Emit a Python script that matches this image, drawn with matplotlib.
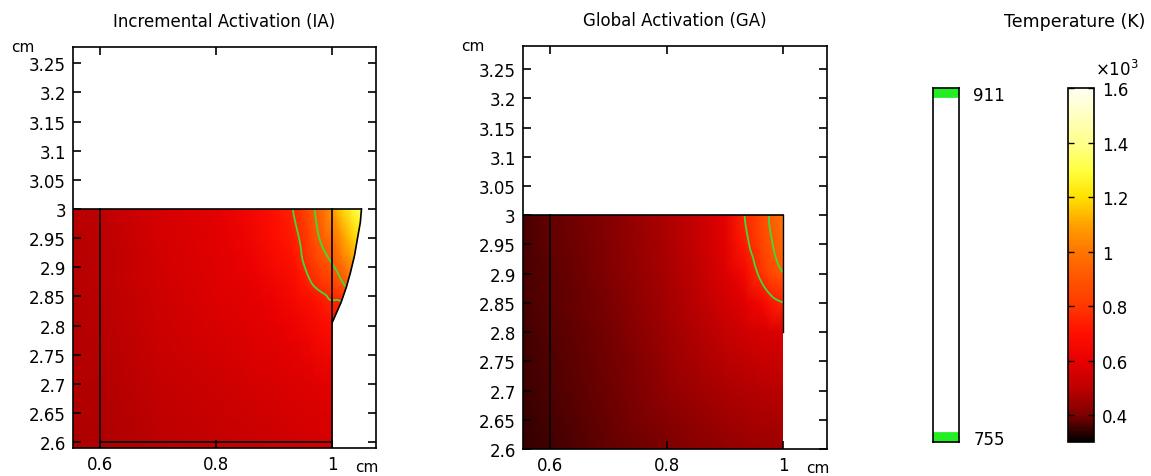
import numpy as np
import matplotlib
matplotlib.use("Agg")
import matplotlib.pyplot as plt
import matplotlib.tri as mtri
from matplotlib.colors import LinearSegmentedColormap, Normalize
from matplotlib.patches import Polygon
from matplotlib.cm import ScalarMappable

# contour levels (K) and colour range
levels = [755, 911]
t_min, t_max = 300, 1600

# --- Incremental Activation (IA): temperature (K), rows = ia_y
ia_x = [0.554, 0.6, 0.7, 0.8, 0.86, 0.9, 0.932, 0.955, 0.97, 0.985, 1.0, 1.015, 1.03, 1.05]
ia_y = [2.59, 2.7, 2.8, 2.843, 2.869, 2.91, 2.95, 3.0]
ia_T = [
    [475, 475, 496, 513, 523, 531, 539, 544, 547, 550, 552, 554, 558, 563],
    [480, 482, 513, 538, 552, 563, 571, 579, 584, 589, 594, 597, 604, 620],
    [485, 489, 529, 563, 581, 596, 615, 642, 661, 680, 693, 715, 742, 780],
    [486, 492, 536, 571, 592, 615, 647, 680, 701, 728, 755, 760, 830, 900],
    [488, 494, 539, 576, 598, 634, 666, 720, 762, 790, 820, 880, 950, 1020],
    [489, 496, 545, 584, 618, 666, 701, 775, 830, 880, 920, 985, 1060, 1130],
    [490, 498, 549, 589, 634, 688, 728, 805, 880, 935, 985, 1065, 1150, 1230],
    [491, 500, 552, 594, 647, 701, 755, 840, 915, 990, 1080, 1170, 1250, 1330],
]
# outline of the bulge on the right of the IA part, bottom to top
bulge_x = [1.0, 1.015, 1.024, 1.031, 1.038, 1.043, 1.048, 1.05]
bulge_y = [2.806, 2.840, 2.866, 2.891, 2.920, 2.949, 2.977, 3.0]

# --- Global Activation (GA), rows = ga_y
ga_x = [0.553, 0.6, 0.7, 0.8, 0.86, 0.9, 0.934, 0.96, 0.976, 1.0]
ga_y = [2.6, 2.7, 2.8, 2.851, 2.902, 2.95, 3.0]
ga_T = [
    [341, 353, 380, 400, 421, 432, 440, 443, 445, 446],
    [348, 363, 388, 428, 453, 468, 479, 486, 490, 491],
    [353, 370, 396, 452, 486, 516, 543, 557, 564, 568],
    [356, 374, 400, 460, 502, 544, 586, 648, 704, 755],
    [358, 376, 406, 467, 517, 573, 653, 777, 844, 911],
    [359, 378, 409, 471, 527, 588, 723, 826, 889, 960],
    [360, 378, 410, 473, 531, 594, 755, 850, 911, 1000],
]

y_ticks = [2.6, 2.65, 2.7, 2.75, 2.8, 2.85, 2.9, 2.95, 3.0, 3.05, 3.1, 3.15, 3.2, 3.25]
x_ticks = [0.6, 0.8, 1.0]
cbar_ticks = [400, 600, 800, 1000, 1200, 1400, 1600]

# colour scale
cmap_T = [300, 350, 400, 500, 600, 700, 800, 900, 1000, 1100, 1200, 1300, 1400, 1600]
cmap_rgb = [(0, 0, 0), (0.25, 0, 0), (0.5, 0, 0), (0.75, 0, 0), (0.91, 0, 0),
            (1, 0.06, 0), (1, 0.22, 0), (1, 0.33, 0), (1, 0.46, 0), (1, 0.63, 0),
            (1, 0.88, 0), (1, 1, 0.25), (1, 1, 0.55), (1, 1, 0.95)]
heat = LinearSegmentedColormap.from_list(
    "heat", [((t - t_min) / (t_max - t_min), c) for t, c in zip(cmap_T, cmap_rgb)])
norm = Normalize(t_min, t_max)
green = "#3ddc3d"

plt.rcParams["font.family"] = "DejaVu Sans"
fig = plt.figure(figsize=(11.51, 4.77), dpi=100)


def style_axes(ax, xlim, ylim, title):
    ax.set_xlim(*xlim)
    ax.set_ylim(*ylim)
    ax.set_xticks(x_ticks)
    ax.set_xticklabels(["%g" % v for v in x_ticks])
    ax.set_yticks(y_ticks)
    ax.set_yticklabels(["%g" % v for v in y_ticks])
    ax.tick_params(direction="in", length=6, width=1.2, top=True, right=True,
                   labelsize=12, pad=5)
    for s in ax.spines.values():
        s.set_linewidth(1.2)
    ax.set_title(title, fontsize=12, pad=15)
    ax.text(-0.165, 1.0, "cm", transform=ax.transAxes, ha="center", va="center", fontsize=11)
    ax.text(0.97, -0.045, "cm", transform=ax.transAxes, ha="center", va="center", fontsize=11)


def draw_field(ax, xs, ys, T, outline):
    X, Y = np.meshgrid(xs, ys)
    z = np.array(T, dtype=float).ravel()
    triang = mtri.Triangulation(X.ravel(), Y.ravel())
    clip = Polygon(outline, closed=True, transform=ax.transData, fill=False, lw=0)
    ax.add_patch(clip)
    mesh = ax.tripcolor(triang, z, cmap=heat, norm=norm, shading="gouraud")
    mesh.set_clip_path(clip)
    interp = mtri.CubicTriInterpolator(triang, z, kind="min_E")
    fine_tri, fine_z = mtri.UniformTriRefiner(triang).refine_field(z, triinterpolator=interp, subdiv=3)
    cs = ax.tricontour(fine_tri, fine_z, levels=levels, colors=green, linewidths=1.3)
    cs.set_clip_path(clip)


# IA panel
ax1 = fig.add_axes([0.0634, 0.0587, 0.2633, 0.8407])
ia_outline = ([(0.554, 2.59), (1.0, 2.59)] + list(zip(bulge_x, bulge_y)) + [(0.554, 3.0)])
draw_field(ax1, ia_x, ia_y, ia_T, ia_outline)
ax1.plot([0.554, 1.05], [3.0, 3.0], color="k", lw=1.2)
ax1.plot([0.6, 0.6], [2.59, 3.0], color="k", lw=1.2)
ax1.plot([1.0, 1.0], [2.59, 3.0], color="k", lw=1.2)
ax1.plot([0.6, 1.0], [2.6, 2.6], color="k", lw=1.2)
ax1.plot(bulge_x, bulge_y, color="k", lw=1.2)
style_axes(ax1, (0.554, 1.075), (2.59, 3.278), "Incremental Activation (IA)")

# GA panel
ax2 = fig.add_axes([0.4541, 0.0566, 0.2641, 0.8455])
ga_outline = [(0.553, 2.6), (1.0, 2.6), (1.0, 3.0), (0.553, 3.0)]
draw_field(ax2, ga_x, ga_y, ga_T, ga_outline)
ax2.plot([0.553, 1.0], [3.0, 3.0], color="k", lw=1.2)
ax2.plot([0.6, 0.6], [2.6, 3.0], color="k", lw=1.2)
ax2.plot([1.0, 1.0], [2.8, 3.0], color="k", lw=1.0)
style_axes(ax2, (0.553, 1.075), (2.6, 3.29), "Global Activation (GA)")

# contour level legend bar
axc = fig.add_axes([0.8103, 0.0707, 0.0231, 0.7421])
axc.set_ylim(752.7, 913.3)
axc.set_xlim(0, 1)
for lv in levels:
    axc.axhline(lv, color="#22ee22", lw=7)
axc.set_xticks([])
axc.set_yticks(levels)
axc.set_yticklabels([str(v) for v in levels])
axc.yaxis.tick_right()
axc.tick_params(axis="y", direction="in", length=3, width=1, left=True, right=True,
                labelsize=12, pad=10)
for s in axc.spines.values():
    s.set_linewidth(1.2)

# temperature colour bar
axb = fig.add_axes([0.9276, 0.0707, 0.0226, 0.7421])
cb = fig.colorbar(ScalarMappable(norm=norm, cmap=heat), cax=axb, ticks=cbar_ticks)
cb.ax.set_yticklabels(["%g" % (v / 1000) for v in cbar_ticks])
cb.ax.tick_params(direction="in", length=4, width=1, left=True, right=True,
                  labelsize=12, pad=6)
cb.outline.set_linewidth(1.2)
axb.text(1.9, 1.025, "×10$^3$", transform=axb.transAxes, ha="center", va="bottom",
         fontsize=12)

fig.text(1075 / 1151, 1 - 22 / 477, "Temperature (K)", ha="center", va="center", fontsize=12.5)

fig.savefig("out.png", dpi=100)
